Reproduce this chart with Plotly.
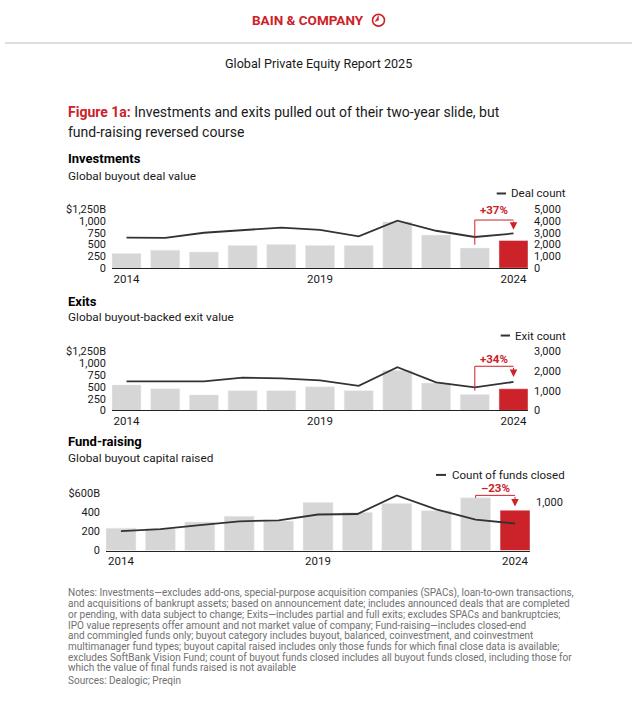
import plotly.graph_objects as go

# ---------------- data ----------------
years = list(range(2014, 2025))
inv_value = [310, 380, 340, 480, 500, 480, 480, 980, 700, 425, 585]
inv_count = [2580, 2560, 3000, 3220, 3440, 3250, 2690, 4020, 3170, 2640, 2940]
exit_value = [540, 460, 330, 420, 420, 500, 420, 850, 580, 340, 460]
exit_count = [1480, 1480, 1480, 1670, 1630, 1530, 1250, 2200, 1430, 1170, 1450]
fund_value = [235, 230, 300, 360, 310, 505, 400, 495, 420, 555, 425]
fund_count = [400, 440, 520, 600, 620, 740, 750, 1130, 845, 635, 555]

x_ticks = [2014, 2019, 2024]
inv_left_ticks = [0, 250, 500, 750, 1000, 1250]
inv_left_text = ["0", "250", "500", "750", "1,000", "$1,250B"]
inv_right_ticks = [0, 1000, 2000, 3000, 4000, 5000]
inv_right_text = ["0", "1,000", "2,000", "3,000", "4,000", "5,000"]
exit_left_ticks = [0, 250, 500, 750, 1000, 1250]
exit_left_text = ["0", "250", "500", "750", "1,000", "$1,250B"]
exit_right_ticks = [0, 1000, 2000, 3000]
exit_right_text = ["0", "1,000", "2,000", "3,000"]
fund_left_ticks = [0, 200, 400, 600]
fund_left_text = ["0", "200", "400", "$600B"]
fund_right_ticks = [1000]
fund_right_text = ["1,000"]

panel_titles = ["Investments", "Exits", "Fund-raising"]
panel_subtitles = ["Global buyout deal value", "Global buyout-backed exit value",
                   "Global buyout capital raised"]
legend_names = ["Deal count", "Exit count", "Count of funds closed"]
changes = ["+37%", "+34%", "\u201323%"]

notes = [
    "Notes: Investments\u2014excludes add-ons, special-purpose acquisition companies (SPACs), loan-to-own transactions,",
    "and acquisitions of bankrupt assets; based on announcement date; includes announced deals that are completed",
    "or pending, with data subject to change; Exits\u2014includes partial and full exits; excludes SPACs and bankruptcies;",
    "IPO value represents offer amount and not market value of company; Fund-raising\u2014includes closed-end",
    "and commingled funds only; buyout category includes buyout, balanced, coinvestment, and coinvestment",
    "multimanager fund types; buyout capital raised includes only those funds for which final close data is available;",
    "excludes SoftBank Vision Fund; count of buyout funds closed includes all buyout funds closed, including those for",
    "which the value of final funds raised is not available",
    "Sources: Dealogic; Preqin",
]

# ---------------- style ----------------
W, H = 640, 707
RED = "#CC2229"
GRAY = "#D6D6D6"
LINE = "#333333"
TXT = "#1a1a1a"
FONT = "Roboto"
TICK = 11


def px(x):
    return x / W


def py(y):
    return 1 - y / H


fig = go.Figure()

panels = [
    dict(value=inv_value, count=inv_count, xdom=(112, 528), ydom=(207, 267),
         lrange=1250, rrange=5000, lt=inv_left_ticks, ltt=inv_left_text,
         rt=inv_right_ticks, rtt=inv_right_text, bw=0.75,
         title_y=155.7, sub_y=173.3, leg_y=191, leg_x=(496.7, 506, 509.3),
         br_off=70, br_top=1020, br_tip=812, lab_y=208.3),
    dict(value=exit_value, count=exit_count, xdom=(112, 528), ydom=(352, 412),
         lrange=1250, rrange=3000, lt=exit_left_ticks, ltt=exit_left_text,
         rt=exit_right_ticks, rtt=exit_right_text, bw=0.75,
         title_y=301, sub_y=316.7, leg_y=335.7, leg_x=(500.7, 510, 513.3),
         br_off=80, br_top=937, br_tip=712, lab_y=359.3),
    dict(value=fund_value, count=fund_count, xdom=(106, 530), ydom=(496.7, 554.7),
         lrange=600, rrange=1170, lt=fund_left_ticks, ltt=fund_left_text,
         rt=fund_right_ticks, rtt=fund_right_text, bw=0.76,
         title_y=443.3, sub_y=460, leg_y=477.7, leg_x=(436, 446, 450),
         br_off=0, br_top=581, br_tip=465, lab_y=491),
]

annotations = []
shapes = []
layout_axes = {}

for i, p in enumerate(panels):
    xa = "x" if i == 0 else f"x{i + 1}"
    yl = "y" if i == 0 else f"y{2 * i + 1}"
    yr = f"y{2 * i + 2}"
    colors = [RED if yv == years[-1] else GRAY for yv in years]
    fig.add_trace(go.Bar(x=years, y=p["value"], marker_color=colors, width=p["bw"],
                         xaxis=xa, yaxis=yl, showlegend=False, hoverinfo="x+y"))
    fig.add_trace(go.Scatter(x=years, y=p["count"], mode="lines",
                             line=dict(color=LINE, width=1.8),
                             xaxis=xa, yaxis=yr, showlegend=False, name=legend_names[i]))

    xkey = "xaxis" if i == 0 else f"xaxis{i + 1}"
    ylkey = "yaxis" if i == 0 else f"yaxis{2 * i + 1}"
    yrkey = f"yaxis{2 * i + 2}"
    half = p["bw"] / 2
    layout_axes[xkey] = dict(
        domain=[px(p["xdom"][0]), px(p["xdom"][1])], anchor=yl,
        range=[years[0] - half, years[-1] + half],
        tickvals=x_ticks, ticktext=[str(t) for t in x_ticks],
        showgrid=False, zeroline=False, showline=True, linecolor="#222", linewidth=1,
        ticks="", tickfont=dict(family=FONT, size=11.5, color=TXT), fixedrange=True)
    layout_axes[ylkey] = dict(
        domain=[py(p["ydom"][1]), py(p["ydom"][0])], anchor=xa,
        range=[0, p["lrange"]], tickvals=p["lt"], ticktext=p["ltt"],
        showgrid=False, zeroline=False, showline=False, ticks="",
        ticklabelstandoff=5,
        tickfont=dict(family=FONT, size=TICK, color=TXT), fixedrange=True)
    layout_axes[yrkey] = dict(
        domain=[py(p["ydom"][1]), py(p["ydom"][0])], anchor=xa, overlaying=yl,
        side="right", range=[0, p["rrange"]], tickvals=p["rt"], ticktext=p["rtt"],
        showgrid=False, zeroline=False, showline=False, ticks="",
        ticklabelstandoff=5,
        tickfont=dict(family=FONT, size=TICK, color=TXT), fixedrange=True)

    # panel title / subtitle
    annotations.append(dict(text=f"<b>{panel_titles[i]}</b>", x=px(66), y=py(p["title_y"]),
                            xref="paper", yref="paper", xanchor="left", yanchor="middle",
                            showarrow=False, font=dict(family=FONT, size=13, color="#000")))
    annotations.append(dict(text=panel_subtitles[i], x=px(66), y=py(p["sub_y"]),
                            xref="paper", yref="paper", xanchor="left", yanchor="middle",
                            showarrow=False, font=dict(family=FONT, size=11.8, color=TXT)))
    # legend
    lx0, lx1, ltx = p["leg_x"]
    shapes.append(dict(type="line", xref="paper", yref="paper", x0=px(lx0), x1=px(lx1),
                       y0=py(p["leg_y"]), y1=py(p["leg_y"]), line=dict(color=LINE, width=2)))
    annotations.append(dict(text=legend_names[i], x=px(ltx), y=py(p["leg_y"]),
                            xref="paper", yref="paper", xanchor="left", yanchor="middle",
                            showarrow=False, font=dict(family=FONT, size=11.5, color=TXT)))
    # change bracket
    prev_v = p["value"][-2]
    x0, x1 = years[-2], years[-1]
    shapes.append(dict(type="path", xref=xa, yref=yl,
                       path=f"M {x0},{prev_v + p['br_off']} L {x0},{p['br_top']} L {x1},{p['br_top']}",
                       line=dict(color=RED, width=1)))
    annotations.append(dict(text="", x=x1, y=p["br_tip"], ax=x1, ay=p["br_top"],
                            xref=xa, yref=yl, axref=xa, ayref=yl, showarrow=True,
                            arrowhead=2, arrowsize=1.5, arrowwidth=1, arrowcolor=RED))
    annotations.append(dict(text=f"<b>{changes[i]}</b>", x=(x0 + x1) / 2, y=py(p["lab_y"]),
                            xref=xa, yref="paper", xanchor="center", yanchor="middle",
                            showarrow=False, font=dict(family=FONT, size=11.5, color=RED)))

# header
annotations.append(dict(text="<b>BAIN & COMPANY</b>", x=px(366), y=py(14.5), xref="paper",
                        yref="paper", xanchor="right", yanchor="middle", showarrow=False,
                        font=dict(family=FONT, size=13.5, color=RED)))
shapes.append(dict(type="circle", xref="paper", yref="paper", x0=px(372.5), x1=px(384.5),
                   y0=py(20.5), y1=py(8.5), line=dict(color=RED, width=1.6)))
shapes.append(dict(type="path", xref="paper", yref="paper",
                   path=f"M {px(378.5)},{py(14.5)} L {px(378.5)},{py(10)} L {px(375.2)},{py(15.8)} Z",
                   fillcolor=RED, line=dict(color=RED, width=0.5)))
shapes.append(dict(type="line", xref="paper", yref="paper", x0=px(5), x1=px(632),
                   y0=py(37.7), y1=py(37.7), line=dict(color="#BDBDBD", width=1)))
annotations.append(dict(text="Global Private Equity Report 2025", x=px(318), y=py(58.3),
                        xref="paper", yref="paper", xanchor="center", yanchor="middle",
                        showarrow=False, font=dict(family=FONT, size=12.6, color=TXT)))
annotations.append(dict(text=f"<span style='color:{RED}'><b>Figure 1a:</b></span> Investments and exits pulled out of their two-year slide, but",
                        x=px(66), y=py(107.5), xref="paper", yref="paper", xanchor="left",
                        yanchor="middle", showarrow=False,
                        font=dict(family=FONT, size=14, color=TXT)))
annotations.append(dict(text="fund-raising reversed course",
                        x=px(66), y=py(128), xref="paper", yref="paper", xanchor="left",
                        yanchor="middle", showarrow=False,
                        font=dict(family=FONT, size=14, color=TXT)))

for k, line in enumerate(notes):
    yy = 598 + k * 10.9 + (1.5 if k == len(notes) - 1 else 0)
    annotations.append(dict(text=line, x=px(66), y=py(yy), xref="paper", yref="paper",
                            xanchor="left", yanchor="middle", showarrow=False,
                            font=dict(family=FONT, size=10, color="#707070")))

fig.update_layout(
    width=W, height=H, margin=dict(l=0, r=0, t=0, b=0),
    paper_bgcolor="white", plot_bgcolor="white",
    showlegend=False, annotations=annotations, shapes=shapes,
    font=dict(family=FONT, color=TXT),
    **layout_axes,
)

fig.write_html("out.html", config={"displayModeBar": False},
               post_script="document.body.style.margin='0';document.body.style.overflow='hidden';")
